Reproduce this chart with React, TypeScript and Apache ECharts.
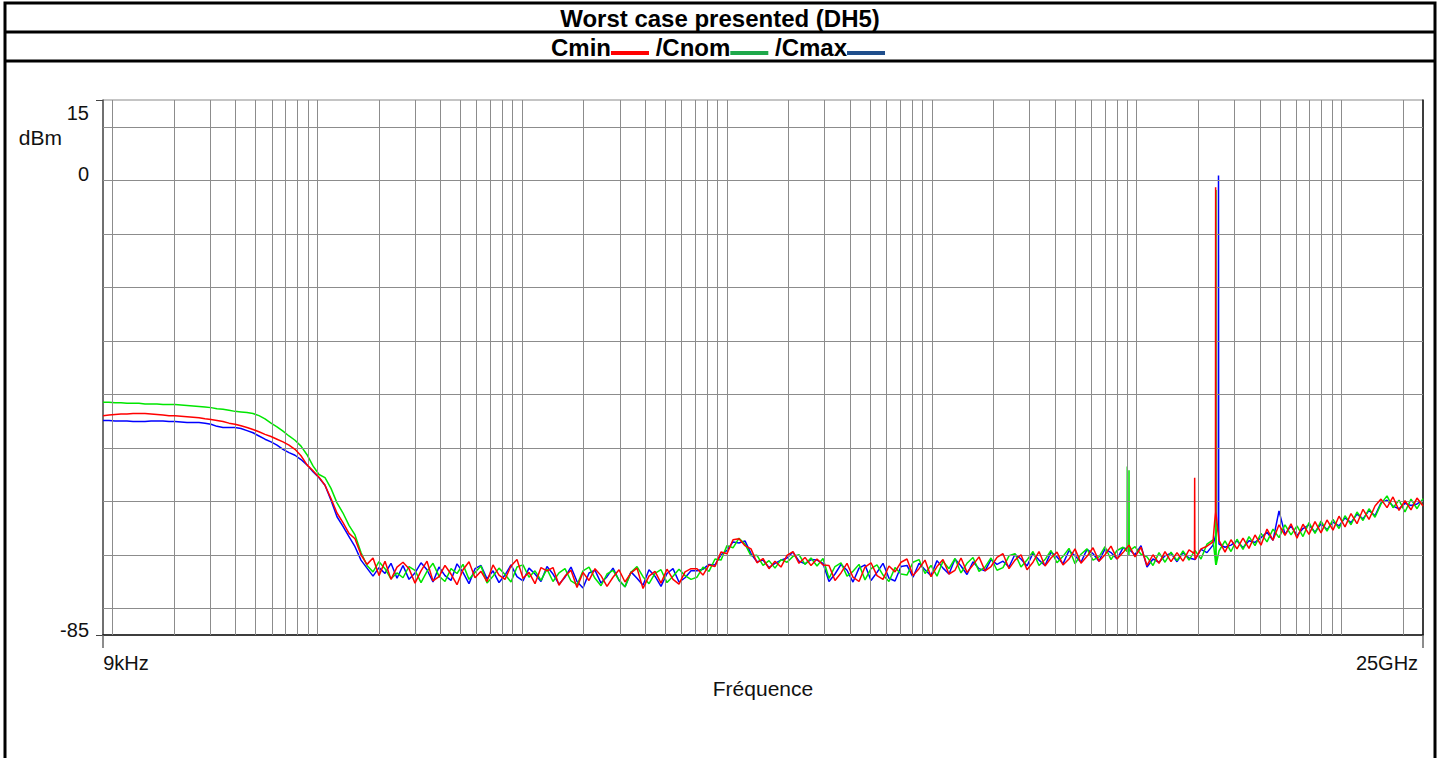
import React, { useEffect, useRef } from "react";
import * as echarts from "echarts";

// ---- sweep (x) ----
const SWEEP_START_HZ = 9e3;
const SWEEP_STOP_HZ = 25e9;
const SWEEP_POINTS = 221;

// ---- readings (dBm), one per sweep point ----
const cminDbm = [
  -44.0, -43.9, -43.8, -43.7, -43.7, -43.6, -43.6, -43.6, -43.7, -43.8, -43.9, -44.0, -44.0, -44.1, -44.2,
  -44.3, -44.4, -44.6, -44.7, -44.9, -45.1, -45.4, -45.6, -45.9, -46.2, -46.6, -47.0, -47.5, -47.9, -48.4,
  -48.9, -49.5, -50.3, -51.5, -53.2, -54.3, -55.5, -57.0, -59.5, -62.2, -64.0, -66.0, -67.0, -70.0, -71.8,
  -70.6, -73.9, -71.2, -74.6, -72.3,
  -71.4, -72.6, -75.3, -73.0, -71.2, -74.9, -74.1, -72.0, -73.6, -75.6, -72.8, -71.3, -74.3, -73.1, -75.0,
  -71.9, -73.8, -74.6, -72.1, -70.9, -74.4, -73.3, -75.4, -72.4, -73.0,
  -72.4, -75.7, -74.0, -72.9, -76.1, -73.3, -74.8, -72.6, -73.9, -75.9, -74.2, -72.8, -75.1, -73.4, -72.5,
  -76.3, -74.0, -73.1, -75.3, -72.7, -74.6, -75.5, -73.2, -72.6,
  -72.6, -73.8, -71.9, -72.2, -69.5, -69.8, -67.2, -67.0, -68.3, -68.9, -71.5, -70.7, -72.6, -71.2, -72.3,
  -70.1, -69.4, -71.6, -70.5, -72.0, -70.8, -71.9,
  -72.0, -74.8, -73.4, -71.6, -74.2, -75.0, -72.3, -71.5, -73.9, -74.6, -72.1, -73.2, -71.4,
  -70.8, -73.9, -72.6, -71.0, -74.1, -72.2, -70.9, -73.6, -72.9, -70.6, -73.3, -71.9, -70.4, -73.0, -72.2, -70.5,
  -69.8, -72.6, -71.0, -70.0, -72.8, -71.4, -69.4, -72.1, -70.6, -69.5, -71.9, -70.8, -68.9, -71.6, -70.3,
  -68.7, -71.2, -70.0, -68.4, -70.8, -69.6,
  -68.2, -70.4, -68.6, -72.0, -70.0, -71.6, -69.4, -71.3, -69.6, -71.2, -69.1, -70.9, -68.9, -68.4, -67.6,
  -67.3, -69.5, -67.2, -68.9, -66.9, -68.8, -66.3, -68.2, -65.2, -67.3, -64.4, -66.4, -64.2, -66.9, -64.3,
  -66.2, -63.8, -65.9, -63.5, -65.4, -62.8, -64.8, -62.3, -64.2, -61.5, -63.4, -60.9, -59.6, -61.2, -59.2,
  -61.7, -59.9, -61.6, -59.4, -60.9,
];

const cnomDbm = [
  -41.5, -41.5, -41.6, -41.6, -41.7, -41.7, -41.7, -41.8, -41.8, -41.8, -41.9, -41.9, -41.9, -42.0, -42.1,
  -42.2, -42.3, -42.4, -42.5, -42.7, -42.8, -43.0, -43.2, -43.3, -43.4, -43.6, -44.0, -44.6, -45.4, -46.1,
  -46.9, -47.8, -48.6, -49.7, -51.3, -53.4, -55.0, -55.6, -57.6, -60.3, -62.2, -64.5, -66.3, -69.6, -72.0,
  -73.2, -71.3, -72.6, -74.5, -73.4,
  -74.3, -72.2, -72.9, -75.2, -73.1, -71.6, -74.0, -75.0, -72.6, -73.5, -71.8, -74.6, -73.3, -72.1, -75.3,
  -74.0, -72.5, -73.7, -75.1, -72.3, -71.9, -74.2, -73.0, -74.8, -72.7,
  -75.0, -73.4, -72.6, -74.9, -75.6, -73.0, -72.3, -74.4, -75.8, -73.6, -72.9, -74.7, -76.0, -73.3, -72.2,
  -74.1, -75.4, -73.5, -72.8, -75.2, -74.0, -72.7, -73.9, -74.6,
  -74.2, -72.3, -73.1, -70.8, -71.0, -68.3, -68.7, -66.9, -68.0, -70.2, -70.1, -72.0, -71.1, -72.5, -70.9,
  -71.4, -70.3, -70.0, -71.8, -70.6, -72.1, -70.7,
  -74.4, -72.2, -71.5, -74.0, -73.1, -71.8, -74.7, -72.6, -71.9, -73.8, -75.0, -72.4, -73.6,
  -73.8, -71.4, -70.9, -73.5, -72.0, -74.0, -71.2, -72.6, -70.7, -73.4, -71.6, -70.5, -73.1, -72.3, -70.6, -72.9,
  -72.4, -70.2, -69.8, -72.3, -71.0, -69.4, -72.0, -70.9, -69.2, -71.5, -70.3, -68.8, -71.7, -69.9, -68.9,
  -71.0, -70.4, -68.5, -70.9, -69.2, -68.6,
  -70.2, -68.5, -69.9, -70.4, -72.0, -69.6, -71.4, -69.5, -71.1, -69.3, -71.0, -69.2, -70.8, -68.0, -67.2,
  -69.3, -67.4, -69.4, -67.1, -69.0, -66.6, -68.3, -66.0, -67.6, -65.2, -66.8, -64.4, -66.3, -64.6, -66.6,
  -64.0, -66.0, -63.7, -65.6, -63.4, -65.1, -62.7, -64.4, -62.0, -63.6, -61.4, -63.0, -60.5, -59.0, -61.2,
  -59.8, -62.0, -59.6, -61.4, -59.5,
];

const cmaxDbm = [
  -44.9, -44.9, -45.0, -45.0, -45.0, -45.1, -45.1, -45.1, -45.0, -45.0, -45.0, -45.1, -45.1, -45.2, -45.3,
  -45.3, -45.3, -45.4, -45.6, -46.0, -46.2, -46.2, -46.2, -46.4, -46.8, -47.2, -47.8, -48.4, -48.9, -49.5,
  -50.3, -50.9, -51.4, -52.2, -53.2, -54.5, -55.6, -57.0, -59.8, -62.9, -64.7, -66.6, -68.5, -71.0, -72.5,
  -74.0, -72.4, -73.5, -71.6, -74.4,
  -72.0, -74.6, -73.4, -71.5, -72.8, -75.1, -72.3, -73.9, -74.8, -71.7, -73.3, -75.4, -72.6, -72.0, -74.5,
  -73.0, -75.2, -73.8, -71.9, -74.1, -74.9, -72.5, -73.6, -75.0, -72.2,
  -73.6, -75.5, -74.2, -72.3, -75.0, -76.2, -73.4, -72.9, -75.3, -74.1, -72.5, -74.8, -76.0, -73.2, -74.4,
  -75.7, -72.8, -74.0, -75.9, -73.5, -72.6, -75.1, -74.3, -73.0,
  -73.0, -72.7, -71.8, -71.9, -70.0, -69.2, -67.6, -67.8, -67.4, -69.8, -71.3, -71.0, -72.4, -71.6, -71.0,
  -70.6, -69.5, -71.2, -71.7, -70.9, -71.0, -71.6,
  -75.0, -73.6, -71.8, -72.9, -75.1, -72.5, -71.9, -74.8, -73.3, -71.6, -74.4, -74.9, -72.2,
  -72.0, -74.2, -71.6, -72.8, -73.9, -71.1, -72.5, -73.6, -70.8, -72.1, -73.7, -71.3, -72.6, -73.0, -70.9, -71.8,
  -71.2, -72.3, -69.9, -70.8, -72.1, -69.7, -71.0, -72.0, -69.5, -70.4, -71.7, -69.2, -70.2, -71.4, -69.0,
  -69.8, -71.2, -68.9, -69.6, -70.8, -68.7,
  -69.0, -70.0, -68.3, -72.3, -70.8, -71.4, -70.2, -69.7, -71.3, -69.6, -70.6, -70.9, -69.0, -69.6, -68.2,
  -68.0, -68.6, -68.2, -67.4, -68.7, -67.4, -67.7, -66.8, -65.8, -67.3, -61.8, -66.2, -64.6, -66.4, -65.1,
  -64.4, -65.8, -64.2, -65.3, -63.9, -64.6, -63.1, -64.0, -62.4, -63.3, -61.7, -62.7, -60.3, -59.8, -60.9,
  -61.4, -60.4, -60.8, -60.5, -59.8,
];

// ---- narrow emissions (Hz, level beside the line, peak level) ----
const cminSpikes = [
  { hz: 1.92e9, base: -69.8, peak: -55.6 },
  { hz: 2.43e9, base: -62.0, peak: -1.3 },
];
const cnomSpikes = [
  { hz: 9.0e8, base: -69.4, peak: -53.5 },
  { hz: 9.18e8, base: -69.3, peak: -54.2 },
  { hz: 2.44e9, base: -71.9, peak: -1.8 },
];
const cmaxSpikes = [{ hz: 2.51e9, base: -64.5, peak: 0.9 }];

// ---- axes ----
const Y_MIN = -85;
const Y_MAX = 15;
const yLabelValues = [15, 0, -85];
const yGridDb = [10, 0, -10, -20, -30, -40, -50, -60, -70, -80];
const gridDecades = [1e4, 1e5, 1e6, 1e7, 1e8, 1e9, 1e10];
const gridMultipliers = [1, 2, 3, 4, 5, 6, 7, 8, 9];
const xLabels = ["9kHz", "25GHz"];

const FONT = '"Liberation Sans", Arial, Helvetica, sans-serif';

function sweepFreqs(): number[] {
  const out: number[] = [];
  const ratio = SWEEP_STOP_HZ / SWEEP_START_HZ;
  for (let i = 0; i < SWEEP_POINTS; i++) {
    out.push(SWEEP_START_HZ * Math.pow(ratio, i / (SWEEP_POINTS - 1)));
  }
  return out;
}

function buildTrace(values: number[], spikes: { hz: number; base: number; peak: number }[]) {
  const freqs = sweepFreqs();
  const pts: number[][] = freqs.map((f, i) => [f, values[i]]);
  spikes.forEach((s) => {
    pts.push([s.hz / 1.002, s.base], [s.hz, s.peak], [s.hz * 1.002, s.base]);
  });
  pts.sort((a, b) => a[0] - b[0]);
  return pts;
}

export default function App() {
  const ref = useRef<HTMLDivElement>(null);

  useEffect(() => {
    if (!ref.current) return;
    const chart = echarts.init(ref.current, undefined, { renderer: "svg" });

    const xGridHz: number[] = [];
    gridDecades.forEach((d) =>
      gridMultipliers.forEach((m) => {
        const v = d * m;
        if (v > SWEEP_START_HZ && v < SWEEP_STOP_HZ) xGridHz.push(v);
      })
    );

    const traceBase = {
      type: "line",
      showSymbol: false,
      symbol: "none",
      silent: true,
      xAxisIndex: 0,
      yAxisIndex: 0,
    };

    chart.setOption({
      animation: false,
      backgroundColor: "#ffffff",
      grid: {
        left: 103,
        top: 100,
        width: 1320,
        height: 535,
        show: true,
        borderColor: "#8a8a8a",
        borderWidth: 1,
        backgroundColor: "transparent",
      },
      xAxis: {
        type: "log",
        logBase: 10,
        min: SWEEP_START_HZ,
        max: SWEEP_STOP_HZ,
        name: "Fréquence",
        nameLocation: "middle",
        nameGap: 39,
        nameTextStyle: { fontFamily: FONT, fontSize: 21, color: "#111" },
        axisLine: { show: true, onZero: false, lineStyle: { color: "#111", width: 1.5 } },
        axisTick: {
          show: true,
          customValues: [SWEEP_START_HZ, SWEEP_STOP_HZ],
          length: 13,
          lineStyle: { color: "#666", width: 1.5 },
        },
        axisLabel: {
          show: true,
          customValues: [SWEEP_START_HZ, SWEEP_STOP_HZ],
          margin: 18,
          fontFamily: FONT,
          fontSize: 20,
          color: "#111",
          formatter: (v: number) => (v < 1e6 ? `{l|${xLabels[0]}}` : `{r|${xLabels[1]}}`),
          rich: {
            l: { fontFamily: FONT, fontSize: 20, color: "#111", padding: [0, 0, 0, 46] },
            r: { fontFamily: FONT, fontSize: 20, color: "#111", padding: [0, 72, 0, 0] },
          },
        },
        splitLine: { show: false },
        minorSplitLine: { show: false },
      },
      yAxis: [
        {
          type: "value",
          min: Y_MIN,
          max: Y_MAX,
          interval: 5,
          axisLine: { show: true, onZero: false, lineStyle: { color: "#555", width: 1.5 } },
          axisTick: {
            show: true,
            customValues: [Y_MAX, Y_MIN],
            length: 7,
            lineStyle: { color: "#444", width: 1 },
          },
          axisLabel: {
            show: true,
            customValues: yLabelValues,
            margin: 14,
            fontFamily: FONT,
            fontSize: 20,
            color: "#111",
            formatter: (v: number) => (v === 15 ? "{a|15}" : v === 0 ? "{b|0}" : "{c|-85}"),
            rich: {
              a: { fontFamily: FONT, fontSize: 20, color: "#111", padding: [26, 0, 0, 0] },
              b: { fontFamily: FONT, fontSize: 20, color: "#111", padding: [0, 0, 12, 0] },
              c: { fontFamily: FONT, fontSize: 20, color: "#111", padding: [0, 0, 10, 0] },
            },
          },
          splitLine: { show: false },
        },
        {
          type: "value",
          min: Y_MIN,
          max: Y_MAX,
          interval: 5,
          position: "right",
          axisLine: { show: true, onZero: false, lineStyle: { color: "#111", width: 1.5 } },
          axisTick: { show: false },
          axisLabel: { show: false },
          splitLine: { show: false },
        },
      ],
      graphic: [
        {
          type: "rect",
          silent: true,
          shape: { x: 5, y: 3, width: 1430, height: 800 },
          style: { fill: "none", stroke: "#000", lineWidth: 3 },
        },
        {
          type: "line",
          silent: true,
          shape: { x1: 5, y1: 32, x2: 1435, y2: 32 },
          style: { stroke: "#000", lineWidth: 3 },
        },
        {
          type: "line",
          silent: true,
          shape: { x1: 5, y1: 61, x2: 1435, y2: 61 },
          style: { stroke: "#000", lineWidth: 3 },
        },
        {
          type: "text",
          x: 720,
          y: 18,
          silent: true,
          style: {
            text: "Worst case presented (DH5)",
            font: `bold 24px ${FONT}`,
            fill: "#000",
            align: "center",
            verticalAlign: "middle",
          },
        },
        {
          type: "text",
          x: 718,
          y: 47,
          silent: true,
          style: {
            text: "{t|Cmin}{r| }{t| /Cnom}{g| }{t| /Cmax}{b| }",
            align: "center",
            verticalAlign: "middle",
            rich: {
              t: { font: `bold 24px ${FONT}`, fill: "#000", lineHeight: 16 },
              r: { width: 38, height: 4, backgroundColor: "#ff0000", verticalAlign: "bottom" },
              g: { width: 38, height: 4, backgroundColor: "#1ea84a", verticalAlign: "bottom" },
              b: { width: 38, height: 4, backgroundColor: "#1f4e8c", verticalAlign: "bottom" },
            },
          },
        },
        {
          type: "text",
          x: 62,
          y: 137,
          silent: true,
          style: {
            text: "dBm",
            font: `21px ${FONT}`,
            fill: "#111",
            align: "right",
            verticalAlign: "middle",
          },
        },
      ],
      series: [
        {
          name: "grid",
          type: "line",
          data: [],
          silent: true,
          z: 1,
          markLine: {
            silent: true,
            symbol: "none",
            animation: false,
            label: { show: false },
            emphasis: { disabled: true },
            lineStyle: { color: "#8c8c8c", width: 1, type: "solid" },
            data: [
              ...xGridHz.map((v) => ({ xAxis: v })),
              ...yGridDb.map((v) => ({ yAxis: v })),
            ],
          },
        },
        {
          ...traceBase,
          name: "Cmax",
          z: 3,
          data: buildTrace(cmaxDbm, cmaxSpikes),
          lineStyle: { color: "#0000ff", width: 1.5 },
          itemStyle: { color: "#0000ff" },
        },
        {
          ...traceBase,
          name: "Cnom",
          z: 4,
          data: buildTrace(cnomDbm, cnomSpikes),
          lineStyle: { color: "#00e600", width: 1.5 },
          itemStyle: { color: "#00e600" },
        },
        {
          ...traceBase,
          name: "Cmin",
          z: 5,
          data: buildTrace(cminDbm, cminSpikes),
          lineStyle: { color: "#ff0000", width: 1.5 },
          itemStyle: { color: "#ff0000" },
        },
      ],
    });

    return () => chart.dispose();
  }, []);

  return (
    <div
      ref={ref}
      style={{ position: "fixed", left: 0, top: 0, width: 1440, height: 758, background: "#fff" }}
    />
  );
}
